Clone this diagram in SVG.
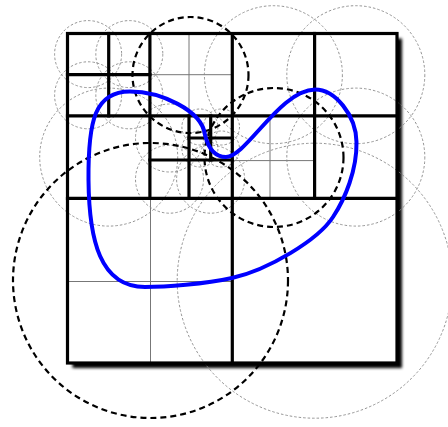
<svg xmlns="http://www.w3.org/2000/svg" width="448" height="427" viewBox="0 0 448 427">
<defs>
<filter id="sh" x="-10%" y="-10%" width="120%" height="120%"><feGaussianBlur stdDeviation="1.8"/></filter>
<style>
.thick{stroke:#000;stroke-width:3.2;fill:none;stroke-linecap:square}
.thin{stroke:#777;stroke-width:1;fill:none}
.gc{stroke:#888;stroke-width:0.9;fill:none;stroke-dasharray:2.5 2}
.bc{stroke:#000;stroke-width:2.2;fill:none;stroke-dasharray:6 4}
.curve{stroke:#0000ff;stroke-width:4;fill:none;stroke-linejoin:round}
</style>
</defs>
<rect width="448" height="427" fill="#fff"/>
<g id="shadow"><rect x="72.5" y="38.5" width="329.5" height="329.5" fill="#000" filter="url(#sh)"/></g>
<g id="board">
<rect x="67.5" y="33.5" width="329.5" height="329.5" fill="#fff"/>
</g>
<g id="thin-grid">
<line class="thin" x1="189" y1="33.5" x2="189" y2="115.9"/>
<line class="thin" x1="149.9" y1="74.7" x2="232.3" y2="74.7"/>
<line class="thin" x1="270" y1="115.9" x2="270" y2="198.3"/>
<line class="thin" x1="232.3" y1="160.6" x2="314.6" y2="160.6"/>
<line class="thin" x1="150.5" y1="198.3" x2="150.5" y2="363"/>
<line class="thin" x1="67.5" y1="281.5" x2="232.3" y2="281.5"/>
</g>
<g id="gray-circles">
<circle class="gc" cx="314.7" cy="280.7" r="137.5"/>
<circle class="gc" cx="273.4" cy="74.7" r="69"/>
<circle class="gc" cx="355.8" cy="74.7" r="69"/>
<circle class="gc" cx="355.8" cy="157.1" r="69"/>
<circle class="gc" cx="108.7" cy="157.1" r="69"/>
<circle class="gc" cx="88.1" cy="54.1" r="33.5"/>
<circle class="gc" cx="129.3" cy="54.1" r="33.5"/>
<circle class="gc" cx="88.1" cy="95.3" r="33.5"/>
<circle class="gc" cx="129.3" cy="95.3" r="33.5"/>
<circle class="gc" cx="169.5" cy="138" r="34"/>
<circle class="gc" cx="169.5" cy="179.2" r="34"/>
<circle class="gc" cx="210.6" cy="179.2" r="34"/>
<circle class="gc" cx="199.9" cy="127" r="18"/>
<circle class="gc" cx="221.5" cy="127" r="18"/>
<circle class="gc" cx="199.9" cy="149" r="18"/>
<circle class="gc" cx="221.5" cy="149" r="18"/>
</g>
<g id="thick-grid">
<rect class="thick" x="67.5" y="33.5" width="329.5" height="329.5"/>
<line class="thick" x1="232.3" y1="33.5" x2="232.3" y2="363"/>
<line class="thick" x1="67.5" y1="198.3" x2="397" y2="198.3"/>
<line class="thick" x1="149.9" y1="33.5" x2="149.9" y2="198.3"/>
<line class="thick" x1="314.6" y1="33.5" x2="314.6" y2="198.3"/>
<line class="thick" x1="67.5" y1="115.9" x2="397" y2="115.9"/>
<line class="thick" x1="108.7" y1="33.5" x2="108.7" y2="115.9"/>
<line class="thick" x1="67.5" y1="74.7" x2="149.9" y2="74.7"/>
<line class="thick" x1="189" y1="115.9" x2="189" y2="198.3"/>
<line class="thick" x1="149.9" y1="160" x2="232.3" y2="160"/>
<line class="thick" x1="210.7" y1="115.9" x2="210.7" y2="160"/>
<line class="thick" x1="189" y1="138" x2="232.3" y2="138"/>
</g>
<g id="black-circles">
<circle class="bc" cx="150.5" cy="280.5" r="137.5"/>
<circle class="bc" cx="274" cy="157.5" r="69.5"/>
<circle class="bc" cx="190.5" cy="75" r="58"/>
</g>
<g id="curve">
<path class="curve" d="M226,157 C246,157 280,90 315,89.5 C335,89.5 356,115 356.5,142 C357,170 345,199 333,217 C318,240 268,270 232,278 C205,284 165,287 145,287 C100,287 89,240 88.5,180 C88,120 95,91.5 130,91.5 C160,91.5 202,110 205,135 C208,147 214,157 226,157 Z"/>
</g>
</svg>
